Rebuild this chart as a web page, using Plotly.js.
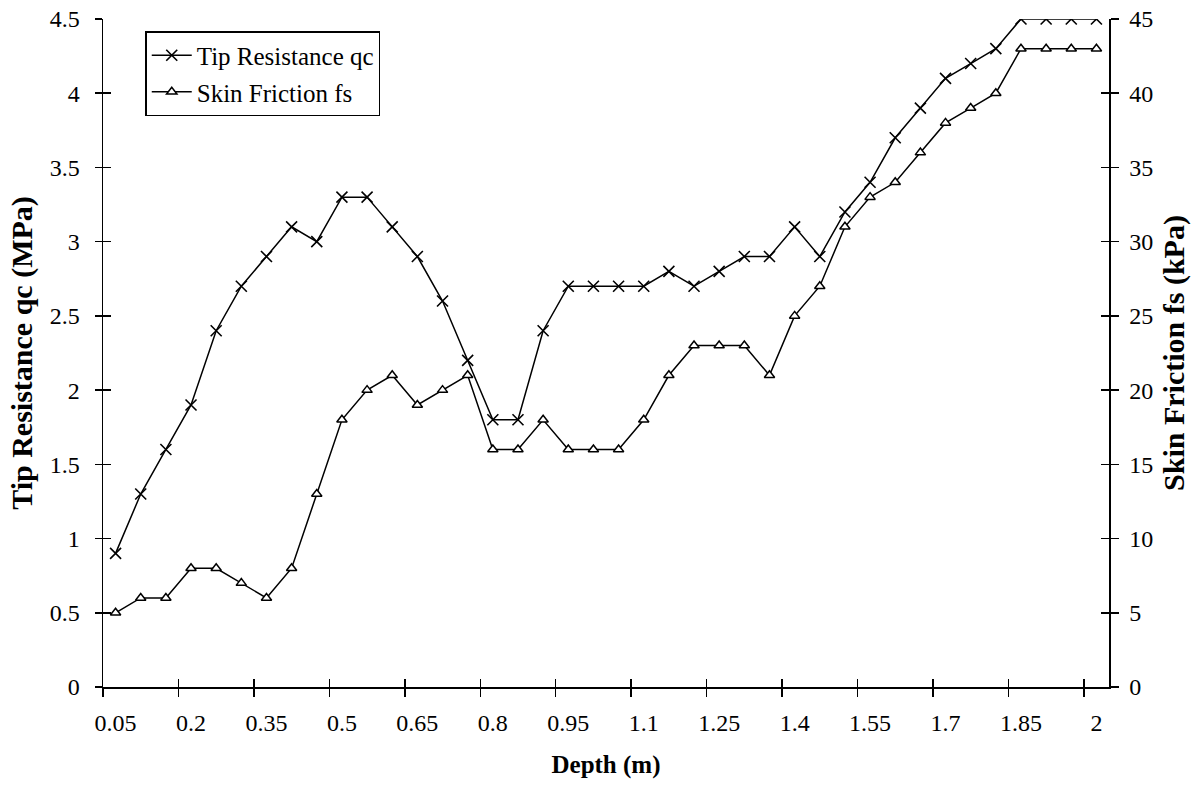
<!DOCTYPE html>
<html>
<head>
<meta charset="utf-8">
<script src="https://cdn.plot.ly/plotly-3.0.1.min.js"></script>
<style>html,body{margin:0;padding:0;background:#fff;}#chart{width:1201px;height:792px;}</style>
</head>
<body>
<div id="chart"></div>
<script>
var depth = ['0.05','0.1','0.15','0.2','0.25','0.3','0.35','0.4','0.45','0.5',
             '0.55','0.6','0.65','0.7','0.75','0.8','0.85','0.9','0.95','1',
             '1.05','1.1','1.15','1.2','1.25','1.3','1.35','1.4','1.45','1.5',
             '1.55','1.6','1.65','1.7','1.75','1.8','1.85','1.9','1.95','2'];
var tipResistance = [0.9,1.3,1.6,1.9,2.4,2.7,2.9,3.1,3.0,3.3,
                     3.3,3.1,2.9,2.6,2.2,1.8,1.8,2.4,2.7,2.7,
                     2.7,2.7,2.8,2.7,2.8,2.9,2.9,3.1,2.9,3.2,
                     3.4,3.7,3.9,4.1,4.2,4.3,4.5,4.5,4.5,4.5];
var skinFriction = [5,6,6,8,8,7,6,8,13,18,
                    20,21,19,20,21,16,16,18,16,16,
                    16,18,21,23,23,23,21,25,27,31,
                    33,34,36,38,39,40,43,43,43,43];
var leftTicks = [0,0.5,1,1.5,2,2.5,3,3.5,4,4.5];
var rightTicks = [0,5,10,15,20,25,30,35,40,45];

var FONT = 'Liberation Serif, Times New Roman, serif';
var tickFont = {family: FONT, size: 24, color: '#000'};
var xTitleFont = {family: FONT, size: 25, color: '#000', weight: 'bold'};
var yTitleFont = {family: FONT, size: 30, color: '#000', weight: 'bold'};

var boundaryTicks = [];
for (var i = 0; i < depth.length; i += 3) boundaryTicks.push(i - 0.5);

var traces = [
  {x: depth, y: tipResistance, name: 'Tip Resistance qc', type: 'scatter', mode: 'lines+markers',
   xaxis: 'x', yaxis: 'y', legendgroup: 'a',
   line: {color: '#000', width: 1.5},
   marker: {symbol: 'x-thin-open', size: 11, color: '#000', line: {color: '#000', width: 1.6}}},
  {x: depth, y: skinFriction, name: 'Skin Friction fs', type: 'scatter', mode: 'lines+markers',
   xaxis: 'x', yaxis: 'y2', legendgroup: 'b',
   line: {color: '#000', width: 1.5},
   marker: {symbol: 'triangle-up', size: 9, color: '#fff', line: {color: '#000', width: 1.5}}},
  // empty helper traces so the overlay tick axes (cross ticks) are drawn
  {x: [], y: [], xaxis: 'x3', yaxis: 'y', showlegend: false, hoverinfo: 'skip', type: 'scatter'},
  {x: [], y: [], xaxis: 'x', yaxis: 'y3', showlegend: false, hoverinfo: 'skip', type: 'scatter'},
  {x: [], y: [], xaxis: 'x', yaxis: 'y4', showlegend: false, hoverinfo: 'skip', type: 'scatter'}
];

var layout = {
  width: 1201, height: 792,
  paper_bgcolor: '#fff', plot_bgcolor: '#fff',
  margin: {l: 103, r: 92, t: 19, b: 105},
  showlegend: true,
  legend: {x: 0.042, y: 0.982, xanchor: 'left', yanchor: 'top',
           bordercolor: '#000', borderwidth: 1.5, bgcolor: '#fff',
           font: {family: FONT, size: 25, color: '#000'},
           tracegroupgap: 1, itemwidth: 40},
  xaxis: {type: 'category', categoryorder: 'array', categoryarray: depth,
          range: [-0.5, depth.length - 0.5], tick0: 0, dtick: 3, tickangle: 0,
          tickson: 'boundaries', ticks: 'outside', ticklen: 8, tickwidth: 1.5, tickcolor: '#000',
          showline: true, linecolor: '#000', linewidth: 1.5, showgrid: false, zeroline: false,
          tickfont: tickFont, ticklabelstandoff: 14,
          title: {text: 'Depth (m)', font: xTitleFont, standoff: 20}},
  xaxis3: {overlaying: 'x', anchor: 'y', range: [-0.5, depth.length - 0.5], type: 'linear',
           tickmode: 'array', tickvals: boundaryTicks, ticks: 'inside', ticklen: 8, tickwidth: 1.5,
           tickcolor: '#000', showticklabels: false, showgrid: false, zeroline: false, showline: false},
  yaxis: {range: [0, 4.5], tickmode: 'array', tickvals: leftTicks,
          ticks: 'outside', ticklen: 7, tickwidth: 1.5, tickcolor: '#000',
          showline: true, linecolor: '#000', linewidth: 1.5, showgrid: false, zeroline: false,
          tickfont: tickFont, ticklabelstandoff: 10,
          title: {text: 'Tip Resistance qc (MPa)', font: yTitleFont, standoff: 8}},
  yaxis3: {overlaying: 'y', side: 'left', anchor: 'x', range: [0, 4.5], tickmode: 'array', tickvals: leftTicks,
           ticks: 'inside', ticklen: 8, tickwidth: 1.5, tickcolor: '#000',
           showticklabels: false, showgrid: false, zeroline: false, showline: false},
  yaxis2: {overlaying: 'y', side: 'right', anchor: 'x', range: [0, 45], tickmode: 'array', tickvals: rightTicks,
           ticks: 'outside', ticklen: 8, tickwidth: 1.5, tickcolor: '#000',
           showline: true, linecolor: '#000', linewidth: 1.5, showgrid: false, zeroline: false,
           tickfont: tickFont, ticklabelstandoff: 6,
           title: {text: 'Skin Friction fs (kPa)', font: yTitleFont, standoff: 10}},
  yaxis4: {overlaying: 'y', side: 'right', anchor: 'x', range: [0, 45], tickmode: 'array', tickvals: rightTicks,
           ticks: 'inside', ticklen: 8, tickwidth: 1.5, tickcolor: '#000',
           showticklabels: false, showgrid: false, zeroline: false, showline: false}
};

Plotly.newPlot('chart', traces, layout, {displayModeBar: false, staticPlot: true});
</script>
</body>
</html>
